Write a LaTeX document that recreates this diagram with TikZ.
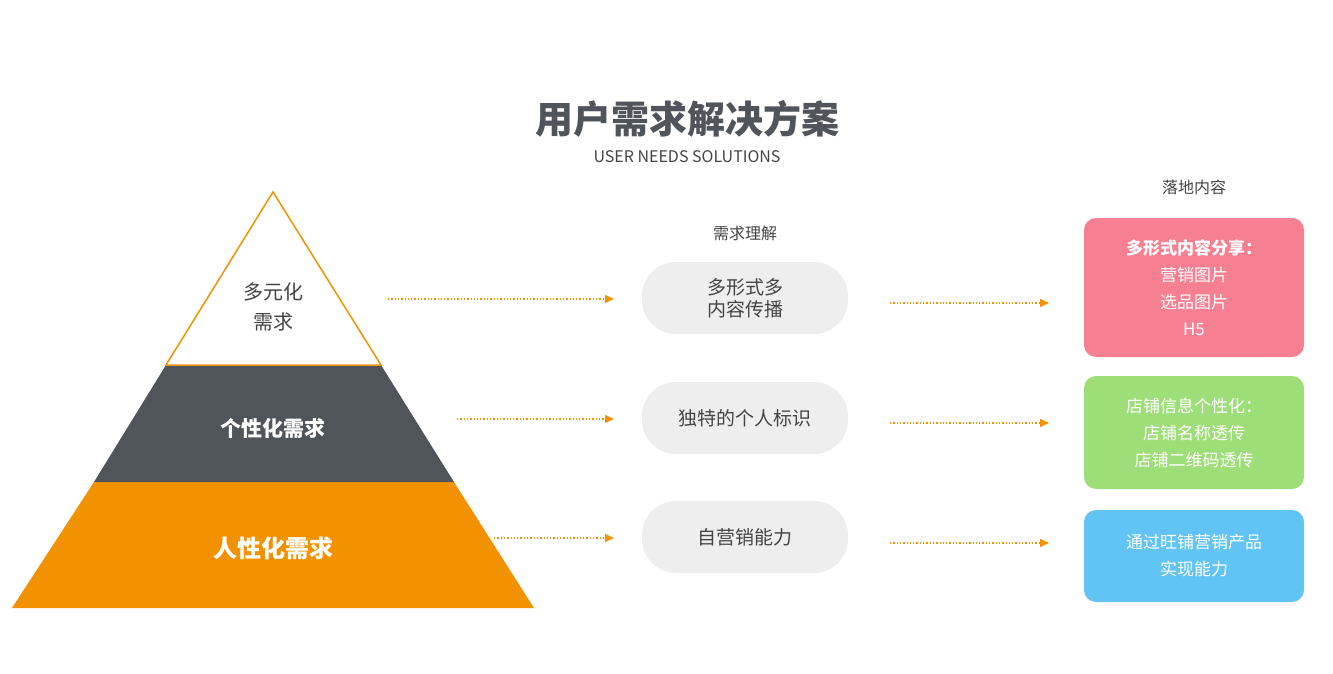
\documentclass[tikz,border=0pt]{standalone}
\usepackage{fontspec}
\setmainfont{Noto Sans CJK SC}
\usetikzlibrary{arrows.meta}
\definecolor{org}{HTML}{F39200}
\definecolor{dgray}{HTML}{50545B}
\definecolor{pillc}{HTML}{EEEEEE}
\definecolor{pinkc}{HTML}{F77F92}
\definecolor{greenc}{HTML}{9EDE78}
\definecolor{bluec}{HTML}{62C3F5}
\definecolor{txt}{HTML}{444444}
\tikzset{
 pill/.style={fill=pillc,rounded corners=34pt,minimum width=206pt,minimum height=72pt,text=txt,font=\fontsize{19}{24}\selectfont,align=center},
 rbox/.style={rounded corners=12pt,minimum width=220pt,text=white,font=\fontsize{17}{27}\selectfont,align=center},
 darrow/.style={org,dotted,line width=1.3pt,-{Triangle[length=9pt,width=8pt,fill=org]}},
}
\begin{document}
\begin{tikzpicture}[x=1pt,y=-1pt]
\useasboundingbox (0,0) rectangle (1333,674);
% pyramid
\fill[org] (12,608) -- (534,608) -- (454,482) -- (94,482) -- cycle;
\fill[dgray] (94,482) -- (454,482) -- (381,365) -- (166,365) -- cycle;
\draw[org,line width=1.5pt,fill=white] (166,365) -- (381,365) -- (273,192) -- cycle;
\node[text=txt,align=center,font=\fontsize{20}{30}\selectfont] (p1) at (273,307) {多元化\\需求};
\node[text=white,font=\fontsize{21}{26}\selectfont\bfseries] (p2) at (273,428) {个性化需求};
\node[text=white,font=\fontsize{24}{30}\selectfont\bfseries] (p3) at (273,548) {人性化需求};
% title
\node[text=dgray,font=\fontsize{38}{44}\selectfont\bfseries] (title) at (687,119) {用户需求解决方案};
\node[text=txt,font=\fontsize{16}{20}\selectfont] (sub) at (687,157) {USER NEEDS SOLUTIONS};
\node[text=txt,font=\fontsize{16}{20}\selectfont] (h1) at (745,233) {需求理解};
\node[text=txt,font=\fontsize{16}{20}\selectfont] (h2) at (1194,187) {落地内容};
% pills
\node[pill] (m1) at (745,298) {多形式多\\[-2pt]内容传播};
\node[pill] (m2) at (745,418) {独特的个人标识};
\node[pill] (m3) at (745,537) {自营销能力};
% right boxes
\node[rbox,fill=pinkc,minimum height=139pt] (r1) at (1194,287.5) {\textbf{多形式内容分享：}\\营销图片\\选品图片\\H5};
\node[rbox,fill=greenc,minimum height=113pt] (r2) at (1194,432.5) {店铺信息个性化：\\店铺名称透传\\店铺二维码透传};
\node[rbox,fill=bluec,minimum height=92pt] (r3) at (1194,556) {通过旺铺营销产品\\实现能力};
% arrow coordinates
\coordinate (a1) at (388,299); \coordinate (b1) at (614,299);
\coordinate (a2) at (457,419); \coordinate (b2) at (614,419);
\coordinate (a3) at (494,538); \coordinate (b3) at (614,538);
\coordinate (c1) at (890,303); \coordinate (d1) at (1049,303);
\coordinate (c2) at (890,423); \coordinate (d2) at (1049,423);
\coordinate (c3) at (890,543); \coordinate (d3) at (1049,543);
\foreach \i in {1,2,3}{
 \draw[darrow] (a\i) -- (b\i);
 \draw[darrow] (c\i) -- (d\i);
}
\end{tikzpicture}
\end{document}
